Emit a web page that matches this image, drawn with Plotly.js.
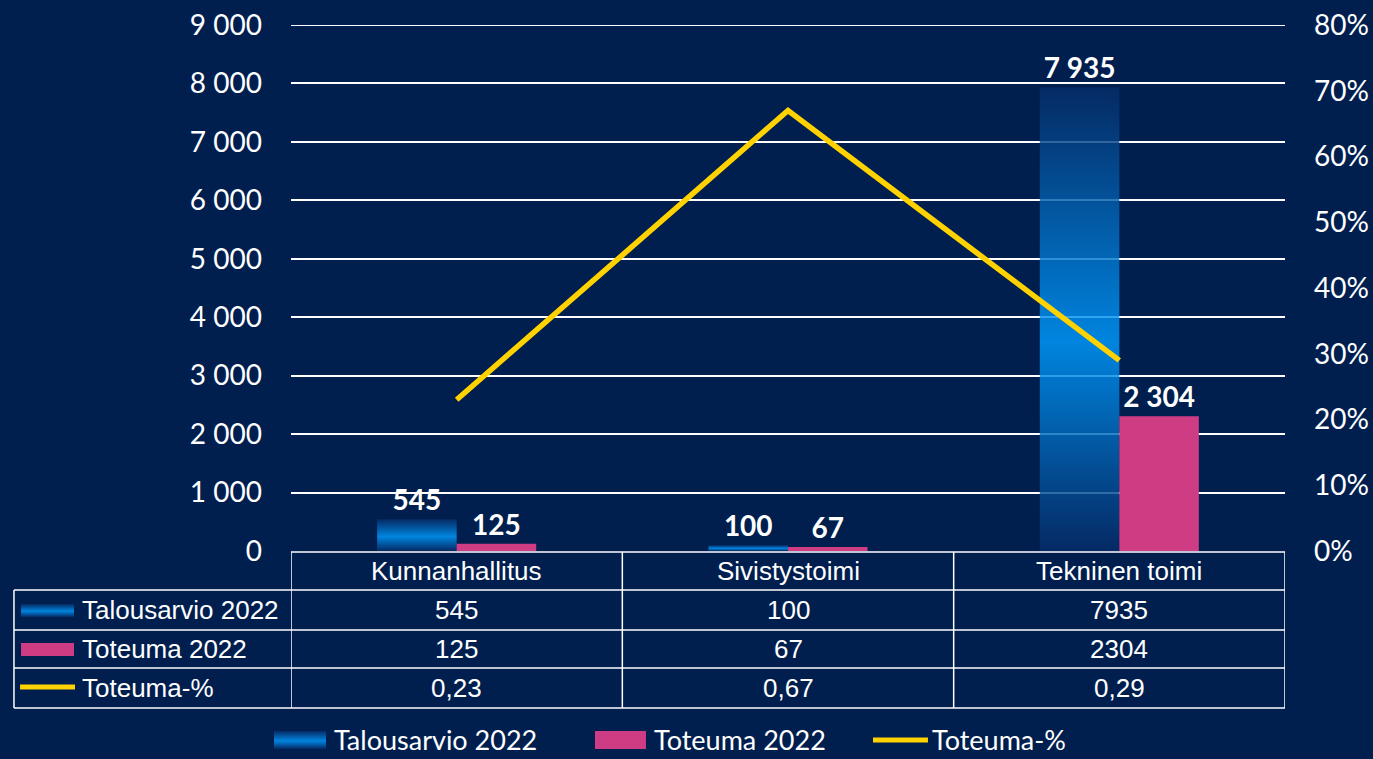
<!DOCTYPE html>
<html>
<head>
<meta charset="utf-8">
<script src="https://cdn.plot.ly/plotly-3.0.1.min.js"></script>
<style>
  html, body { margin: 0; padding: 0; background: #001F4F; }
  #chart { width: 1373px; height: 759px; }
</style>
</head>
<body>
<div id="chart"></div>
<script>
// ---- data ----
const categories = ['Kunnanhallitus', 'Sivistystoimi', 'Tekninen toimi'];
const budget2022 = [545, 100, 7935];
const actual2022 = [125, 67, 2304];
const actualPct = [0.23, 0.67, 0.29];
const seriesNames = ['Talousarvio 2022', 'Toteuma 2022', 'Toteuma-%'];

// ---- styles ----
const BG = '#001F4F';
const BLUE_SENTINEL = 'rgb(0, 112, 200)';
const PINK = '#CE3D83';
const YELLOW = '#FFD200';
const TICK_FONT = { family: 'Lato, "Open Sans", sans-serif', size: 28, color: '#FFFFFF' };
const LEGEND_FONT = { family: 'Lato, "Open Sans", sans-serif', size: 27, color: '#FFFFFF' };
const TABLE_FONT = { family: '"Liberation Sans", Arial, sans-serif', size: 26, color: '#FFFFFF' };
const BLUE_OPACITY = 0.82;

const data = [
  {
    type: 'bar', name: seriesNames[0], x: categories, y: budget2022,
    marker: { color: BLUE_SENTINEL, opacity: BLUE_OPACITY, line: { width: 0 } },
    texttemplate: '%{y:,d}', textposition: 'outside', constraintext: 'none',
    textfont: { family: 'Lato, "Open Sans", sans-serif', size: 28, color: '#FFFFFF', weight: 'bold' },
    cliponaxis: false, hoverinfo: 'skip'
  },
  {
    type: 'bar', name: seriesNames[1], x: categories, y: actual2022,
    marker: { color: PINK, line: { width: 0 } },
    texttemplate: '%{y:,d}', textposition: 'outside', constraintext: 'none',
    textfont: { family: 'Lato, "Open Sans", sans-serif', size: 28, color: '#FFFFFF', weight: 'bold' },
    cliponaxis: false, hoverinfo: 'skip'
  },
  {
    type: 'scatter', mode: 'lines', name: seriesNames[2], x: categories, y: actualPct,
    yaxis: 'y2', line: { color: YELLOW, width: 5.5 }, hoverinfo: 'skip'
  }
];

// ---- table (below plot) ----
const rowTops = [-0.0019, -0.0741, -0.1502, -0.2224, -0.2985]; // paper y of row borders
const leftEdge = -0.2787;
const shapes = [];
const annotations = [];
const lineStyle = { color: '#FFFFFF', width: 1.5 };
// top gridline at the range edge
shapes.push({ type: 'line', xref: 'paper', yref: 'y', x0: 0, x1: 1, y0: 9000, y1: 9000, line: { color: '#FFFFFF', width: 2 }, layer: 'below' });
// horizontal lines
rowTops.forEach((y, i) => {
  shapes.push({ type: 'line', xref: 'paper', yref: 'paper', x0: i === 0 ? 0 : leftEdge, x1: 1, y0: y, y1: y, line: lineStyle, layer: 'above' });
});
// vertical lines
shapes.push({ type: 'line', xref: 'paper', yref: 'paper', x0: leftEdge, x1: leftEdge, y0: rowTops[1], y1: rowTops[4], line: lineStyle });
for (let k = 0; k <= categories.length; k++) {
  shapes.push({ type: 'line', xref: 'x', yref: 'paper', x0: k - 0.5, x1: k - 0.5, y0: rowTops[0], y1: rowTops[4], line: lineStyle });
}
const rowMid = i => (rowTops[i] + rowTops[i + 1]) / 2;
// header
categories.forEach((c, i) => {
  annotations.push({ xref: 'x', yref: 'paper', x: i, y: rowMid(0), text: c, showarrow: false, xanchor: 'center', yanchor: 'middle', font: TABLE_FONT });
});
const fmtPct = v => v.toFixed(2).replace('.', ',');
const rows = [budget2022.map(String), actual2022.map(String), actualPct.map(fmtPct)];
rows.forEach((vals, r) => {
  vals.forEach((v, i) => {
    annotations.push({ xref: 'x', yref: 'paper', x: i, y: rowMid(r + 1), text: v, showarrow: false, xanchor: 'center', yanchor: 'middle', font: TABLE_FONT });
  });
  annotations.push({ xref: 'paper', yref: 'paper', x: -0.2123, y: rowMid(r + 1), text: seriesNames[r], showarrow: false, xanchor: 'left', yanchor: 'middle', font: TABLE_FONT });
});
// table keys
shapes.push({ type: 'rect', xref: 'paper', yref: 'paper', x0: -0.2716, x1: -0.2183, y0: -0.1008, y1: -0.1255, fillcolor: BLUE_SENTINEL, opacity: BLUE_OPACITY, line: { width: 0 } });
shapes.push({ type: 'rect', xref: 'paper', yref: 'paper', x0: -0.2716, x1: -0.2183, y0: -0.1750, y1: -0.1996, fillcolor: PINK, line: { width: 0 } });
shapes.push({ type: 'line', xref: 'paper', yref: 'paper', x0: -0.2726, x1: -0.2173, y0: -0.2586, y1: -0.2586, line: { color: YELLOW, width: 5 } });

// ---- bottom legend ----
const legY = -0.3593;
const legTop = legY + 0.0171, legBot = legY - 0.0171;
shapes.push({ type: 'rect', xref: 'paper', yref: 'paper', x0: -0.0171, x1: 0.0352, y0: legTop, y1: legBot, fillcolor: BLUE_SENTINEL, opacity: BLUE_OPACITY, line: { width: 0 } });
shapes.push({ type: 'rect', xref: 'paper', yref: 'paper', x0: 0.3058, x1: 0.3571, y0: legTop, y1: legBot, fillcolor: PINK, line: { width: 0 } });
shapes.push({ type: 'line', xref: 'paper', yref: 'paper', x0: 0.5855, x1: 0.6408, y0: legY, y1: legY, line: { color: YELLOW, width: 5 } });
const legX = [0.0412, 0.3632, 0.643];
seriesNames.forEach((n, i) => {
  annotations.push({ xref: 'paper', yref: 'paper', x: legX[i], y: legY, text: n, showarrow: false, xanchor: 'left', yanchor: 'middle', font: LEGEND_FONT });
});

const layout = {
  width: 1373, height: 759,
  margin: { l: 291, r: 88, t: 25, b: 208 },
  paper_bgcolor: BG, plot_bgcolor: BG,
  separators: ', ',
  barmode: 'group', bargap: 0.52, bargroupgap: 0,
  showlegend: false,
  xaxis: { type: 'category', range: [-0.5, 2.5], showticklabels: false, showgrid: false, zeroline: false, showline: false, fixedrange: true },
  yaxis: {
    range: [0, 9000], tick0: 0, dtick: 1000, tickformat: ',d',
    gridcolor: '#FFFFFF', gridwidth: 2, zeroline: false, showline: false,
    tickfont: TICK_FONT, ticks: '', ticklabelstandoff: 28, fixedrange: true
  },
  yaxis2: {
    overlaying: 'y', side: 'right', range: [0, 0.8], tick0: 0, dtick: 0.1, tickformat: '.0%',
    showgrid: false, zeroline: false, showline: false,
    tickfont: TICK_FONT, ticks: '', ticklabelstandoff: 28, fixedrange: true
  },
  shapes: shapes,
  annotations: annotations
};

Plotly.newPlot('chart', data, layout, { staticPlot: true, displayModeBar: false }).then(gd => {
  const ns = 'http://www.w3.org/2000/svg';
  const svg = gd.querySelector('svg.main-svg');
  let defs = svg.querySelector('defs');
  if (!defs) { defs = document.createElementNS(ns, 'defs'); svg.insertBefore(defs, svg.firstChild); }
  const grad = document.createElementNS(ns, 'linearGradient');
  grad.setAttribute('id', 'talousGrad');
  grad.setAttribute('x1', '0'); grad.setAttribute('y1', '0');
  grad.setAttribute('x2', '0'); grad.setAttribute('y2', '1');
  [[0, 'rgb(6,44,104)'], [0.55, 'rgb(0,155,255)'], [1, 'rgb(6,44,104)']].forEach(([o, c]) => {
    const s = document.createElementNS(ns, 'stop');
    s.setAttribute('offset', o); s.setAttribute('stop-color', c);
    grad.appendChild(s);
  });
  defs.appendChild(grad);
  gd.querySelectorAll('path').forEach(p => {
    if (p.style.fill === BLUE_SENTINEL) p.style.fill = 'url(#talousGrad)';
  });
});
</script>
</body>
</html>
